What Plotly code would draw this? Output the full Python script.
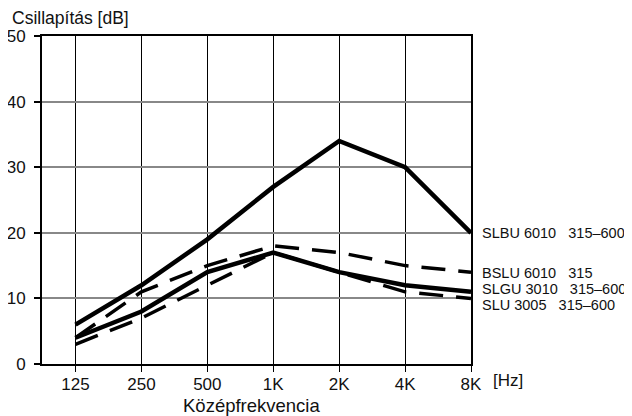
import plotly.graph_objects as go

freqs = ["125", "250", "500", "1K", "2K", "4K", "8K"]
slbu = [6, 12, 19, 27, 34, 30, 20]
slgu = [4, 8, 14, 17, 14, 12, 11]
bslu = [4, 11, 15, 18, 17, 15, 14]
slu = [3, 7, 12, 17, 14, 11, 10]

SP = "\u00a0" * 3
labels = ["SLBU 6010" + SP + "315–600", "BSLU 6010" + SP + "315",
          "SLGU 3010" + SP + "315–600", "SLU 3005" + SP + "315–600"]
label_y = [20.0, 13.8, 11.4, 9.0]

xpos = list(range(len(freqs)))
FONT = "Liberation Sans, Arial, sans-serif"

fig = go.Figure()
series = [(slbu, "solid", 4.5), (slgu, "solid", 4.5), (bslu, "24px,13px", 3.5), (slu, "24px,13px", 3.5)]
for vals, dash, w in series:
    fig.add_trace(go.Scatter(x=xpos, y=vals, mode="lines",
                             line=dict(color="black", width=w, dash=dash),
                             showlegend=False, hoverinfo="skip"))

for t, yv in zip(labels, label_y):
    fig.add_annotation(text=t, xref="paper", x=1.0210, yref="y", y=yv,
                       xanchor="left", yanchor="middle", showarrow=False,
                       font=dict(size=14.5, color="#111", family=FONT))

fig.add_annotation(text="Csillapítás [dB]", xref="paper", x=-0.0720, yref="paper", y=1.055,
                   xanchor="left", yanchor="middle", showarrow=False, borderpad=0,
                   font=dict(size=17.5, color="#111", family=FONT))
fig.add_annotation(text="Középfrekvencia", xref="paper", x=0.4895, yref="paper", y=-0.128,
                   xanchor="center", yanchor="middle", showarrow=False,
                   font=dict(size=18.5, color="#111", family=FONT))
fig.add_annotation(text="[Hz]", xref="paper", x=1.047, yref="paper", y=-0.0488,
                   xanchor="left", yanchor="middle", showarrow=False,
                   font=dict(size=17, color="#111", family=FONT))

fig.update_layout(
    width=624, height=408,
    margin=dict(l=34, r=161, t=28, b=52),
    paper_bgcolor="white", plot_bgcolor="white",
    font=dict(family=FONT, size=17, color="#111"),
    xaxis=dict(range=[-0.508, 6], tickmode="array", tickvals=xpos, ticktext=freqs,
               showgrid=True, gridcolor="black", gridwidth=1,
               showline=True, linecolor="black", linewidth=2, mirror=True,
               ticks="outside", ticklen=6, tickcolor="black", tickwidth=1,
               ticklabelstandoff=-2, zeroline=False, automargin=False),
    yaxis=dict(range=[0, 50], tickvals=[0, 10, 20, 30, 40, 50],
               showgrid=True, gridcolor="#888", gridwidth=1.5,
               showline=True, linecolor="black", linewidth=2, mirror=True,
               ticks="outside", ticklen=6, tickcolor="black", tickwidth=1.5,
               ticklabelstandoff=5, zeroline=False, automargin=False),
)

fig.write_html("out.html")
